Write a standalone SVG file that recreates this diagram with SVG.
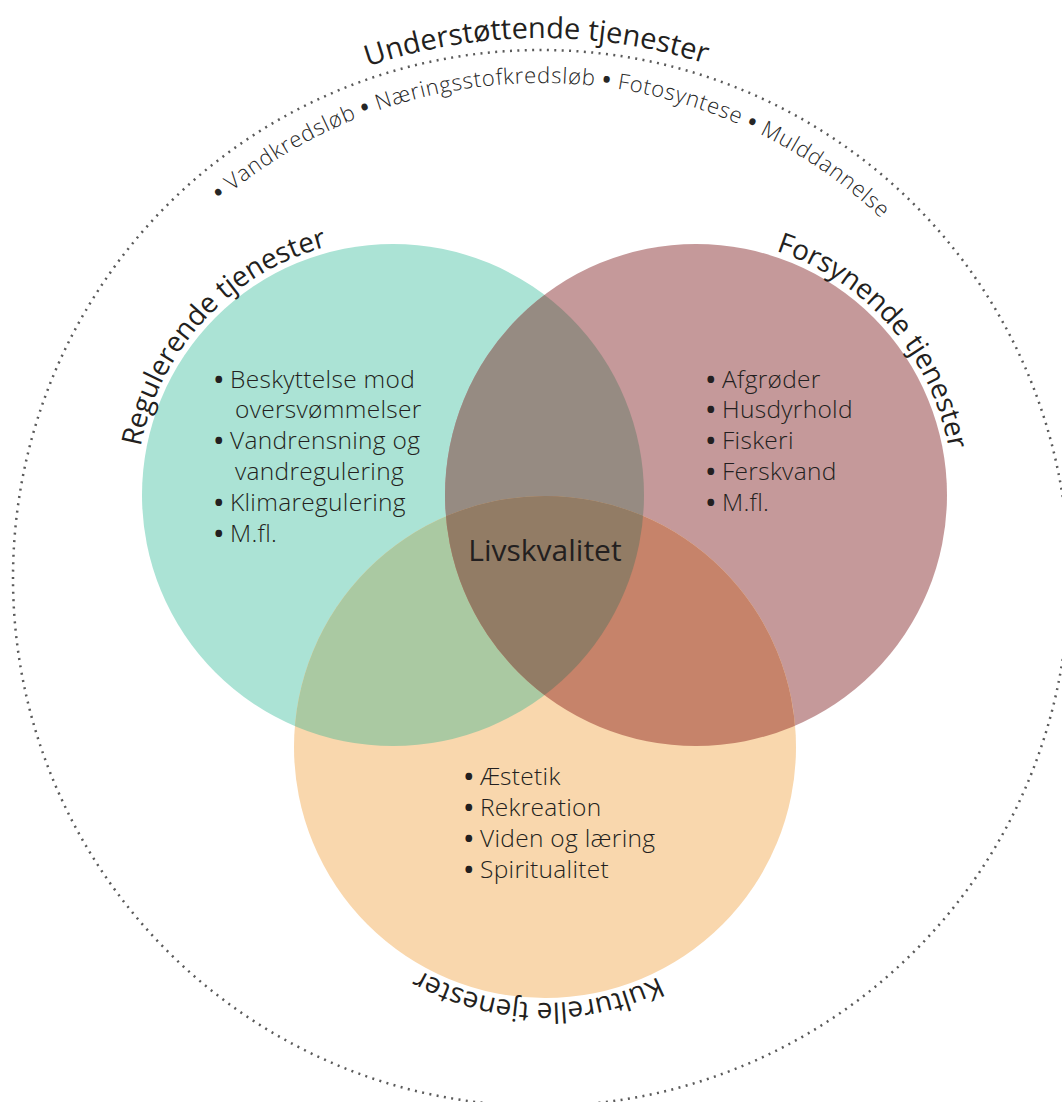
<svg xmlns="http://www.w3.org/2000/svg" width="1062" height="1102" viewBox="0 0 1062 1102">
<defs>
<style>
.lbl{font-family:"Open Sans","Liberation Sans",sans-serif;font-size:28px;fill:#231f20}
.big{font-size:29px}
.item{font-family:"Open Sans","Liberation Sans",sans-serif;font-size:24.5px;letter-spacing:0.3px;fill:#231f20;font-weight:300}
.b{font-weight:700;font-size:24px}
.sub{font-family:"Open Sans","Liberation Sans",sans-serif;font-size:22px;fill:#262626;font-weight:300}
.sb{font-weight:700}
.center{font-family:"Open Sans","Liberation Sans",sans-serif;font-size:30px;fill:#231f20}
.dotted{fill:none;stroke:#5a5a5a;stroke-width:2.5;stroke-dasharray:2 5.4}
</style>
<clipPath id="cG"><circle cx="393" cy="495" r="251"/></clipPath>
<clipPath id="cR"><circle cx="696" cy="495" r="251"/></clipPath>
<path id="arcOuter" d="M 1 578 A 540 540 0 0 1 1081 578"/>
<path id="arcSub" d="M 46 578 A 495 495 0 0 1 1036 578"/>
<path id="arcG" d="M 136 495 A 257 257 0 0 1 650 495"/>
<path id="arcR" d="M 439 495 A 257 257 0 0 1 953 495"/>
<path id="arcO" d="M 289 747 A 256 256 0 0 1 801 747"/>
</defs>
<rect width="1062" height="1102" fill="#ffffff"/>

<g id="node-understottende">
<circle class="dotted" cx="541" cy="578" r="528"/>
<text class="lbl big" transform="rotate(-0.5 541 578)"><textPath href="#arcOuter" startOffset="50%" text-anchor="middle">Understøttende tjenester</textPath></text>
<text class="sub" transform="rotate(1.5 541 578)" textLength="724" lengthAdjust="spacing"><textPath href="#arcSub" startOffset="50%" text-anchor="middle"><tspan class="sb">•</tspan> Vandkredsløb <tspan class="sb">•</tspan> Næringsstofkredsløb <tspan class="sb">•</tspan> Fotosyntese <tspan class="sb">•</tspan> Mulddannelse</textPath></text>
</g>

<g id="node-regulerende">
<circle cx="393" cy="495" r="251" fill="#abe3d5"/>
<text class="lbl" transform="rotate(-47 393 495)"><textPath href="#arcG" startOffset="50%" text-anchor="middle">Regulerende tjenester</textPath></text>
<text class="item">
<tspan class="b" x="219" y="388" text-anchor="middle">•</tspan><tspan x="230" y="388">Beskyttelse mod</tspan>
<tspan x="235" y="418">oversvømmelser</tspan>
<tspan class="b" x="219" y="449" text-anchor="middle">•</tspan><tspan x="230" y="449">Vandrensning og</tspan>
<tspan x="235" y="480">vandregulering</tspan>
<tspan class="b" x="219" y="511" text-anchor="middle">•</tspan><tspan x="230" y="511">Klimaregulering</tspan>
<tspan class="b" x="219" y="542" text-anchor="middle">•</tspan><tspan x="230" y="542">M.fl.</tspan>
</text>
</g>

<g id="node-forsynende">
<circle cx="696" cy="495" r="251" fill="#c5999a"/>
<text class="lbl" transform="rotate(49 696 495)"><textPath href="#arcR" startOffset="50%" text-anchor="middle">Forsynende tjenester</textPath></text>
<text class="item">
<tspan class="b" x="711" y="388" text-anchor="middle">•</tspan><tspan x="722" y="388">Afgrøder</tspan>
<tspan class="b" x="711" y="418" text-anchor="middle">•</tspan><tspan x="722" y="418">Husdyrhold</tspan>
<tspan class="b" x="711" y="449" text-anchor="middle">•</tspan><tspan x="722" y="449">Fiskeri</tspan>
<tspan class="b" x="711" y="480" text-anchor="middle">•</tspan><tspan x="722" y="480">Ferskvand</tspan>
<tspan class="b" x="711" y="511" text-anchor="middle">•</tspan><tspan x="722" y="511">M.fl.</tspan>
</text>
</g>

<g id="node-kulturelle">
<circle cx="545" cy="747" r="251" fill="#f9d7ad"/>
<text class="lbl" transform="rotate(181.6 545 747)"><textPath href="#arcO" startOffset="50%" text-anchor="middle">Kulturelle tjenester</textPath></text>
<text class="item">
<tspan class="b" x="469" y="785" text-anchor="middle">•</tspan><tspan x="480" y="785">Æstetik</tspan>
<tspan class="b" x="469" y="816" text-anchor="middle">•</tspan><tspan x="480" y="816">Rekreation</tspan>
<tspan class="b" x="469" y="847" text-anchor="middle">•</tspan><tspan x="480" y="847">Viden og læring</tspan>
<tspan class="b" x="469" y="878" text-anchor="middle">•</tspan><tspan x="480" y="878">Spiritualitet</tspan>
</text>
</g>

<g id="overlaps">
<circle cx="696" cy="495" r="251" clip-path="url(#cG)" fill="#968b82"/>
<circle cx="545" cy="747" r="251" clip-path="url(#cG)" fill="#aac9a2"/>
<circle cx="545" cy="747" r="251" clip-path="url(#cR)" fill="#c6836a"/>
<g clip-path="url(#cR)"><circle cx="545" cy="747" r="251" clip-path="url(#cG)" fill="#927c65"/></g>
</g>

<g id="node-livskvalitet">
<text class="center" x="545" y="561" text-anchor="middle">Livskvalitet</text>
</g>

<g id="connectors"></g>
</svg>
